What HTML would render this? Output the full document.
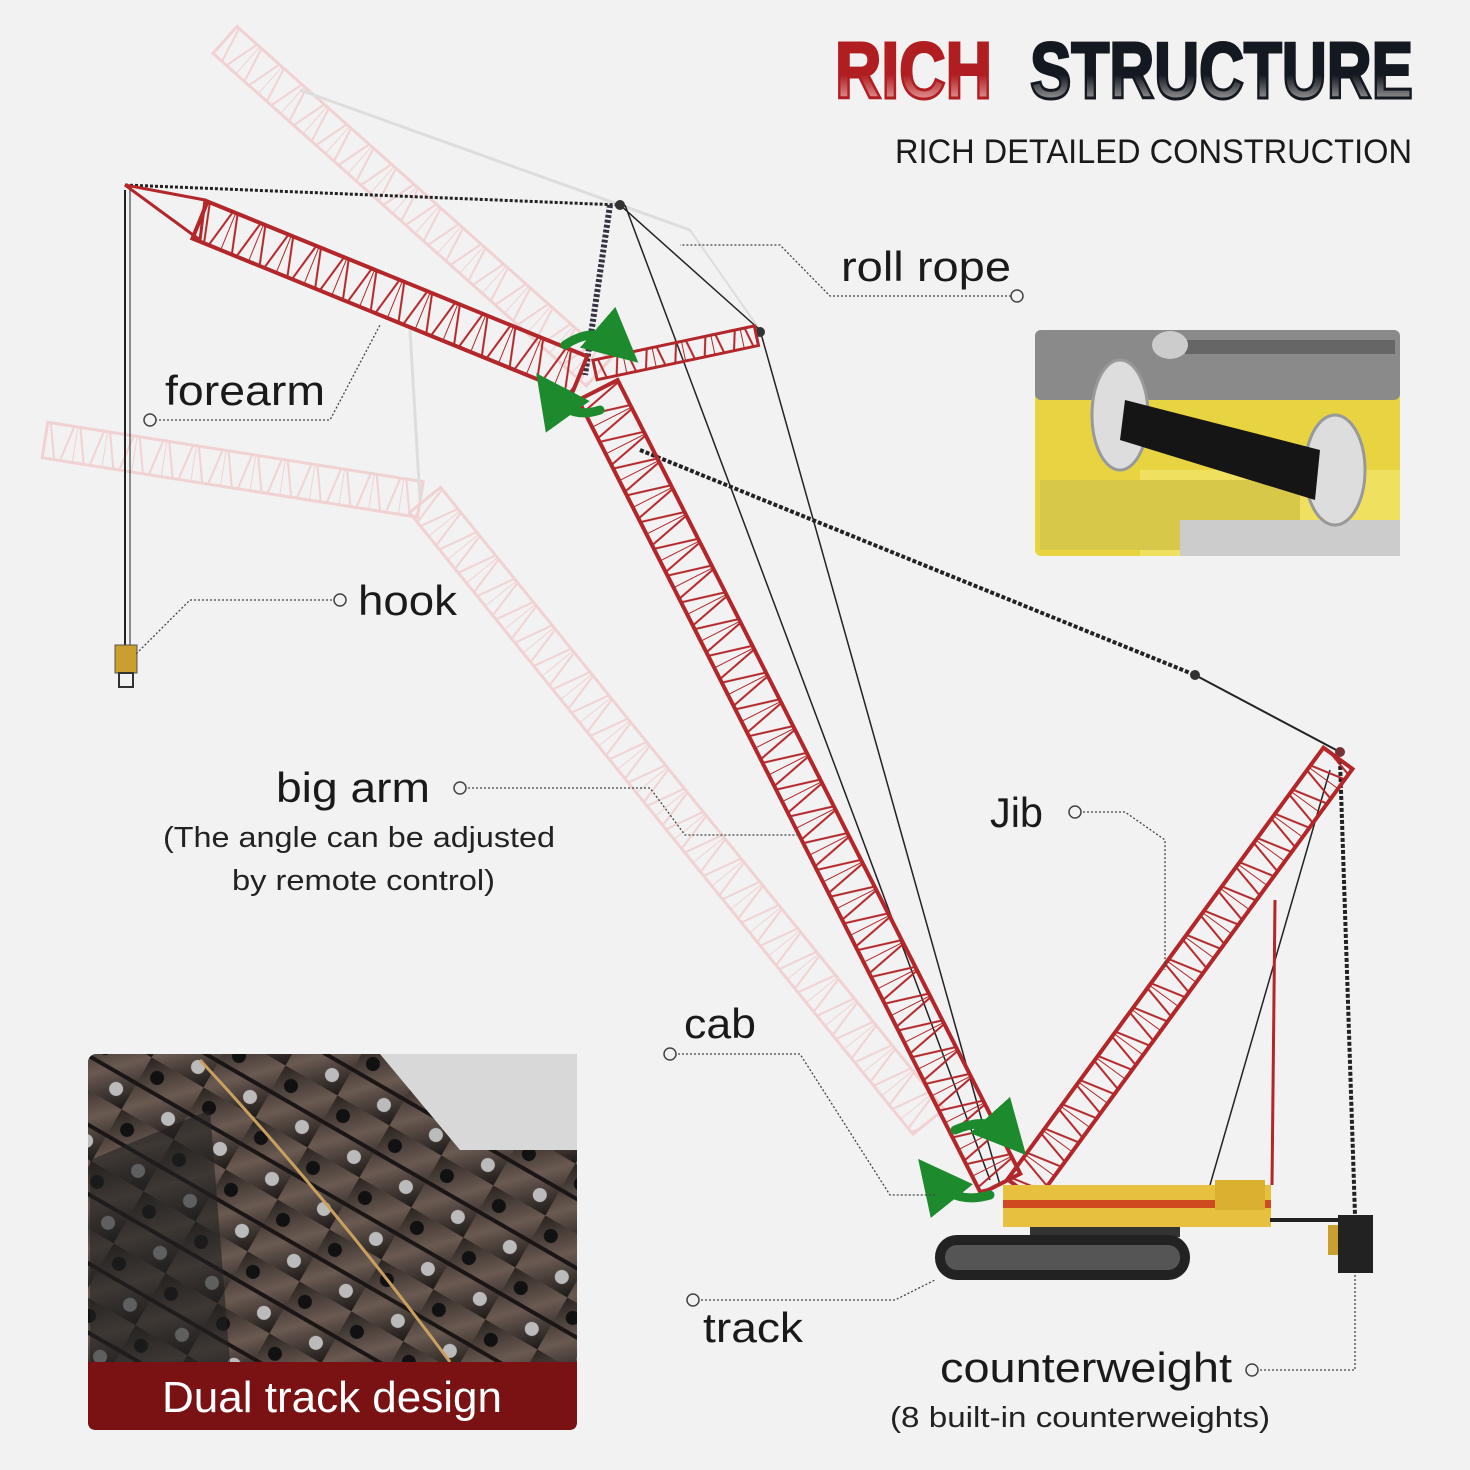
<!DOCTYPE html>
<html><head><meta charset="utf-8"><style>
html,body{margin:0;padding:0;background:#f2f2f2}
svg{display:block}
text{font-family:"Liberation Sans",sans-serif}
</style></head><body>
<svg width="1470" height="1470" viewBox="0 0 1470 1470" xmlns="http://www.w3.org/2000/svg">
<defs>
<linearGradient id="gr" x1="0" y1="0" x2="0" y2="1"><stop offset="0.55" stop-color="#b01e22"/><stop offset="0.8" stop-color="#d88"/><stop offset="1" stop-color="#eee"/></linearGradient>
<linearGradient id="gk" x1="0" y1="0" x2="0" y2="1"><stop offset="0.55" stop-color="#141820"/><stop offset="0.8" stop-color="#888"/><stop offset="1" stop-color="#ddd"/></linearGradient>
<pattern id="zr" width="30" height="60" y="-30" patternUnits="userSpaceOnUse"><path d="M0 0 L15 60 L30 0 M0 0 V60" fill="none" stroke="#b3262a" stroke-width="2"/></pattern>
<pattern id="zp" width="30" height="60" y="-30" patternUnits="userSpaceOnUse"><path d="M0 0 L15 60 L30 0 M0 0 V60" fill="none" stroke="#f1d2d2" stroke-width="2"/></pattern>
<linearGradient id="trk" x1="0" y1="0" x2="1" y2="1"><stop offset="0" stop-color="#2a2420"/><stop offset="0.5" stop-color="#6a5a52"/><stop offset="1" stop-color="#1d1a18"/></linearGradient>
<pattern id="trp" width="60" height="60" patternUnits="userSpaceOnUse" patternTransform="rotate(30)"><rect width="60" height="60" fill="url(#trk)"/><circle cx="15" cy="15" r="7" fill="#111"/><circle cx="45" cy="45" r="7" fill="#bbb"/><rect x="0" y="28" width="60" height="4" fill="#1a1616"/></pattern>
<marker id="ga" markerWidth="6" markerHeight="6" refX="3" refY="3" orient="auto"><path d="M0 0 L6 3 L0 6z" fill="#1e8a2e"/></marker>
</defs>

<!-- ghost trusses -->
<g>
<g transform="translate(225,40) rotate(41.7)"><rect x="0" y="-18" width="500" height="36" fill="url(#zp)" stroke="#f1d2d2" stroke-width="3"/></g>
<g transform="translate(45,440) rotate(9)"><rect x="0" y="-18" width="380" height="36" fill="url(#zp)" stroke="#f1d2d2" stroke-width="3"/></g>
<g transform="translate(425,500) rotate(51)"><rect x="0" y="-20" width="800" height="40" fill="url(#zp)" stroke="#f1d2d2" stroke-width="3"/></g>
<line x1="410" y1="330" x2="420" y2="500" stroke="#ddd" stroke-width="3"/>
<line x1="300" y1="90" x2="690" y2="230" stroke="#ddd" stroke-width="3"/>
<line x1="690" y1="230" x2="760" y2="330" stroke="#ddd" stroke-width="2"/>
</g>

<!-- ropes -->
<g stroke="#222" fill="none">
<line x1="125" y1="185" x2="620" y2="205" stroke-width="3" stroke-dasharray="3 2"/>
<line x1="125" y1="190" x2="125" y2="650" stroke-width="2"/>
<line x1="130" y1="190" x2="130" y2="650" stroke-width="1"/>
<line x1="620" y1="205" x2="760" y2="330" stroke-width="1.5"/>
<line x1="625" y1="205" x2="990" y2="1180" stroke-width="1.5"/>
<line x1="760" y1="330" x2="1000" y2="1185" stroke-width="1.5"/>
<line x1="640" y1="450" x2="1195" y2="675" stroke-width="4" stroke-dasharray="4 2"/>
<line x1="1195" y1="675" x2="1340" y2="752" stroke-width="2"/>
<line x1="1340" y1="760" x2="1355" y2="1215" stroke-width="4" stroke-dasharray="4 2"/>
<line x1="1330" y1="770" x2="1210" y2="1185" stroke-width="1.5"/>
<line x1="1275" y1="900" x2="1272" y2="1185" stroke="#b3262a" stroke-width="3"/>
<line x1="610" y1="205" x2="585" y2="375" stroke="#334" stroke-width="6" stroke-dasharray="3 2"/>
</g>
<circle cx="620" cy="205" r="5" fill="#333"/><circle cx="760" cy="332" r="5" fill="#333"/><circle cx="1195" cy="675" r="5" fill="#333"/><circle cx="1340" cy="752" r="5" fill="#733"/>

<!-- forearm -->
<polygon points="125,185 205,200 200,240" fill="none" stroke="#b3262a" stroke-width="3"/>
<g transform="translate(200,220) rotate(22.2)"><rect x="0" y="-20" width="410" height="40" fill="url(#zr)" stroke="#b3262a" stroke-width="4"/></g>
<g transform="translate(595,370) rotate(-12)"><rect x="0" y="-10" width="165" height="20" fill="url(#zr)" stroke="#b3262a" stroke-width="3"/></g>
<g transform="translate(598,390) rotate(63.1)"><rect x="0" y="-22" width="890" height="44" fill="url(#zr)" stroke="#b3262a" stroke-width="4"/></g>
<g transform="translate(1022,1190) rotate(-53.8)"><rect x="0" y="-18" width="535" height="36" fill="url(#zr)" stroke="#b3262a" stroke-width="4"/></g>

<!-- hook -->
<rect x="115" y="645" width="22" height="28" fill="#c9a030" stroke="#555"/>
<rect x="119" y="673" width="14" height="14" fill="none" stroke="#333" stroke-width="2"/>

<!-- base -->
<rect x="1003" y="1185" width="268" height="42" fill="#e8c040"/>
<rect x="1003" y="1200" width="268" height="8" fill="#d04a20"/>
<rect x="1215" y="1180" width="50" height="30" fill="#d9b030"/>
<line x1="1270" y1="1220" x2="1340" y2="1220" stroke="#222" stroke-width="4"/>
<rect x="1030" y="1227" width="150" height="10" fill="#333"/>
<rect x="935" y="1235" width="255" height="45" rx="22" fill="#222"/>
<rect x="945" y="1245" width="235" height="25" rx="12" fill="#555"/>
<rect x="1338" y="1215" width="35" height="58" fill="#222"/>
<rect x="1328" y="1225" width="10" height="30" fill="#c9a030"/>

<!-- green arrows -->
<g fill="none" stroke="#1e8a2e" stroke-width="9" stroke-linecap="round">
<path d="M565 345 Q595 325 618 345" marker-end="url(#ga)"/>
<path d="M600 410 Q570 420 552 395" marker-end="url(#ga)"/>
<path d="M955 1130 Q990 1115 1008 1135" marker-end="url(#ga)"/>
<path d="M990 1195 Q955 1205 935 1180" marker-end="url(#ga)"/>
</g>

<!-- leader lines -->
<g fill="none" stroke="#444" stroke-width="1.3" stroke-dasharray="2 2">
<polyline points="155,420 330,420 380,325"/>
<polyline points="340,600 190,600 135,655"/>
<polyline points="460,788 650,788 685,835 800,835"/>
<polyline points="1075,812 1125,812 1165,840 1165,970"/>
<polyline points="670,1054 800,1054 890,1195 935,1195"/>
<polyline points="693,1300 895,1300 935,1280"/>
<polyline points="1252,1370 1355,1370 1355,1275"/>
<polyline points="1015,296 830,296 780,245 680,245"/>
</g>
<g fill="#f2f2f2" stroke="#444" stroke-width="1.5">
<circle cx="150" cy="420" r="6"/><circle cx="340" cy="600" r="6"/><circle cx="460" cy="788" r="6"/><circle cx="1075" cy="812" r="6"/><circle cx="670" cy="1054" r="6"/><circle cx="693" cy="1300" r="6"/><circle cx="1252" cy="1370" r="6"/><circle cx="1017" cy="296" r="6"/>
</g>

<!-- labels -->
<g fill="#1a1a1a" font-size="42" lengthAdjust="spacingAndGlyphs">
<text x="165" y="405" textLength="160" lengthAdjust="spacingAndGlyphs">forearm</text>
<text x="358" y="615" textLength="99" lengthAdjust="spacingAndGlyphs">hook</text>
<text x="276" y="802" textLength="154" lengthAdjust="spacingAndGlyphs">big arm</text>
<text x="990" y="827" textLength="53" lengthAdjust="spacingAndGlyphs">Jib</text>
<text x="684" y="1038" textLength="72" lengthAdjust="spacingAndGlyphs">cab</text>
<text x="703" y="1342" textLength="100" lengthAdjust="spacingAndGlyphs">track</text>
<text x="841" y="281" textLength="170" lengthAdjust="spacingAndGlyphs">roll rope</text>
<text x="940" y="1382" textLength="292" lengthAdjust="spacingAndGlyphs">counterweight</text>
</g>
<g fill="#222" font-size="29">
<text x="163" y="847" textLength="392" lengthAdjust="spacingAndGlyphs">(The angle can be adjusted</text>
<text x="232" y="890" textLength="263" lengthAdjust="spacingAndGlyphs">by remote control)</text>
<text x="890" y="1427" textLength="380" lengthAdjust="spacingAndGlyphs">(8 built-in counterweights)</text>
</g>

<!-- title -->
<text x="835" y="98" font-size="80" font-weight="bold" fill="url(#gr)" stroke="#b01e22" stroke-width="3" textLength="157" lengthAdjust="spacingAndGlyphs">RICH</text>
<text x="1030" y="98" font-size="80" font-weight="bold" fill="url(#gk)" stroke="#141820" stroke-width="3" textLength="383" lengthAdjust="spacingAndGlyphs">STRUCTURE</text>
<text x="895" y="163" font-size="34" fill="#1a1a1a" textLength="517" lengthAdjust="spacingAndGlyphs">RICH DETAILED CONSTRUCTION</text>

<!-- roll rope photo -->
<g>
<rect x="1035" y="330" width="365" height="226" rx="6" fill="#e8d440"/>
<rect x="1035" y="330" width="365" height="70" rx="6" fill="#8a8a8a"/>
<rect x="1140" y="470" width="260" height="86" fill="#f0e060"/>
<rect x="1040" y="480" width="260" height="70" fill="#d8c84a"/>
<rect x="1180" y="520" width="220" height="36" fill="#ccc"/>
<rect x="1185" y="340" width="210" height="14" fill="#666"/>
<ellipse cx="1120" cy="415" rx="28" ry="55" fill="#ddd" stroke="#999" stroke-width="3"/>
<ellipse cx="1335" cy="470" rx="30" ry="55" fill="#ddd" stroke="#999" stroke-width="3"/>
<path d="M1125 400 L1320 450 L1315 500 L1120 440z" fill="#151515"/>
<ellipse cx="1170" cy="345" rx="18" ry="14" fill="#ccc"/>
</g>

<!-- track photo -->
<g>
<rect x="88" y="1054" width="489" height="376" rx="8" fill="url(#trp)"/>
<path d="M380 1054 L577 1054 L577 1150 L460 1150z" fill="#d8d8d8"/>
<path d="M90 1160 L210 1110 L230 1362 L90 1362z" fill="#222" opacity="0.6"/>
<path d="M200 1060 Q330 1200 450 1362" stroke="#c9a060" stroke-width="3" fill="none"/>
<path d="M88 1362 L577 1362 L577 1422 Q577 1430 569 1430 L96 1430 Q88 1430 88 1422z" fill="#7a1214"/>
<text x="332" y="1412" font-size="44" fill="#fff" text-anchor="middle">Dual track design</text>
</g>
</svg>
</body></html>
